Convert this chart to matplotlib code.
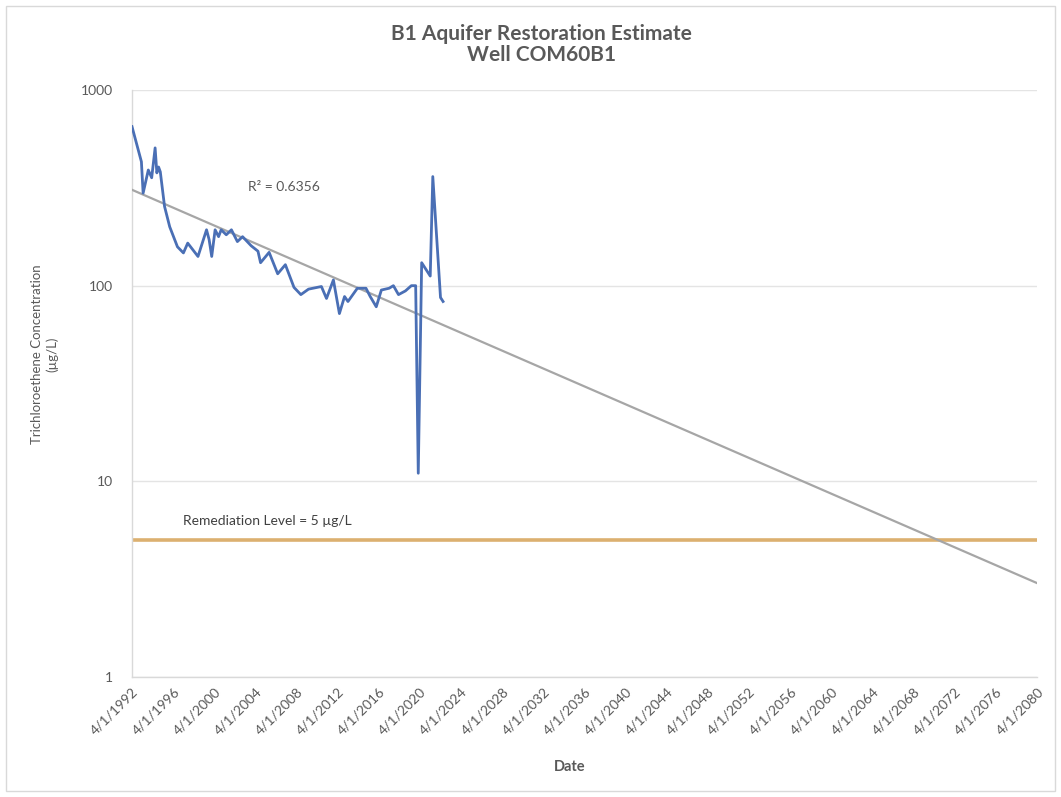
import matplotlib
matplotlib.use("Agg")
import matplotlib.pyplot as plt
import matplotlib.dates as mdates
from matplotlib.patches import Rectangle
from matplotlib.ticker import FixedLocator, FixedFormatter, NullLocator
import numpy as np
import datetime as dt

# Sampling dates and TCE concentrations (µg/L) for well COM60B1
sample_dates = [
    "1992-04-01", "1993-03-01", "1993-05-01", "1993-11-01", "1994-03-01",
    "1994-07-01", "1994-09-01", "1994-11-01", "1995-01-01", "1995-06-01",
    "1995-12-01", "1996-09-01", "1997-04-01", "1997-09-01", "1998-09-01",
    "1999-07-01", "1999-10-01", "2000-01-01", "2000-05-01", "2000-09-01",
    "2000-12-01", "2001-06-01", "2001-12-01", "2002-07-01", "2003-01-01",
    "2003-11-01", "2004-07-01", "2004-10-01", "2005-08-01", "2006-06-01",
    "2007-03-01", "2008-01-01", "2008-09-01", "2009-06-01", "2010-09-01",
    "2011-03-01", "2011-11-01", "2012-06-01", "2012-12-01", "2013-04-01",
    "2014-03-01", "2015-01-01", "2015-06-01", "2016-01-01", "2016-07-01",
    "2017-04-01", "2017-09-01", "2018-03-01", "2018-11-01", "2019-06-01",
    "2019-11-01", "2020-02-01", "2020-06-01", "2021-04-01", "2021-07-01",
    "2022-04-01", "2022-07-01",
]
tce_ugL = [
    650, 430, 297, 390, 356,
    506, 377, 404, 382, 254,
    200, 158, 147, 165, 141,
    193, 172, 141, 193, 178,
    193, 182, 193, 168, 178,
    160, 150, 131, 148, 115,
    128, 98, 90, 96, 99,
    86, 107, 72, 88, 83,
    97, 97, 88, 78, 95,
    97, 100, 90, 94, 100,
    100, 11, 131, 112, 361,
    87, 83,
]

# Exponential trend line end points (date, µg/L)
trend_dates = ["1992-04-01", "2080-04-01"]
trend_values = [309, 3.02]
r_squared_label = "R\u00b2 = 0.6356"

remediation_level = 5
tick_years = list(range(1992, 2081, 4))
y_ticks = [1, 10, 100, 1000]

text_color = "#595959"
plt.rcParams["font.family"] = ["Lato", "DejaVu Sans"]

fig = plt.figure(figsize=(10.61, 7.97), dpi=100)
ax = fig.add_axes([132 / 1061, 1 - 677 / 797, (1037 - 132) / 1061, (677 - 90) / 797])

to_date = lambda s: dt.datetime.strptime(s, "%Y-%m-%d")
xd = [to_date(s) for s in sample_dates]

# Trend line (straight in log space between its end points)
tx = mdates.date2num([to_date(s) for s in trend_dates])
tt = np.linspace(tx[0], tx[1], 200)
log_tv = np.interp(tt, tx, np.log10(trend_values))
ax.plot(mdates.num2date(tt), 10 ** log_tv, color="#a6a6a6", lw=1.6, zorder=3)

# Measured concentrations
ax.plot(xd, tce_ugL, color="#4a6fb5", lw=2.0, zorder=4)

# Remediation level
ax.axhline(remediation_level, color="#dcb070", lw=2.6, zorder=2)

ax.set_yscale("log")
ax.set_ylim(1, 1000)
ax.set_xlim(dt.datetime(1992, 4, 1), dt.datetime(2080, 4, 1))

ax.yaxis.set_major_locator(FixedLocator(y_ticks))
ax.yaxis.set_major_formatter(FixedFormatter([str(v) for v in y_ticks]))
ax.yaxis.set_minor_locator(NullLocator())
ax.grid(axis="y", color="#e4e4e4", lw=1.0, zorder=0)

tick_pos = mdates.date2num([dt.datetime(y, 4, 1) for y in tick_years])
ax.xaxis.set_major_locator(FixedLocator(tick_pos))
ax.xaxis.set_major_formatter(FixedFormatter([f"4/1/{y}" for y in tick_years]))
ax.xaxis.set_minor_locator(NullLocator())

for lab in ax.get_xticklabels():
    lab.set_rotation(45)
    lab.set_ha("right")
    lab.set_rotation_mode("anchor")

ax.tick_params(axis="both", length=0, colors=text_color, labelsize=10)
ax.tick_params(axis="x", pad=6)
ax.tick_params(axis="y", pad=14)

for side in ["top", "right"]:
    ax.spines[side].set_visible(False)
for side in ["left", "bottom"]:
    ax.spines[side].set_color("#d9d9d9")
    ax.spines[side].set_linewidth(1.0)

ax.text(dt.datetime(2003, 7, 1), 320, r_squared_label, color=text_color, fontsize=10,
        va="center", ha="left")
ax.text(dt.datetime(1997, 3, 1), 6.25, f"Remediation Level = {remediation_level} \u00b5g/L",
        color="#404040", fontsize=10, va="center", ha="left")

fig.text(0.51, 0.944, "B1 Aquifer Restoration Estimate\nWell COM60B1", ha="center",
         va="center", fontsize=15, fontweight="bold", color=text_color, linespacing=1.1)
fig.text(0.042, 0.556, "Trichloroethene Concentration\n(\u00b5g/L)", rotation=90,
         ha="center", va="center", fontsize=9.5, color=text_color, linespacing=1.3)
fig.text(0.537, 0.038, "Date", ha="center", va="center", fontsize=10.5,
         fontweight="bold", color=text_color)

fig.patches.append(Rectangle((6 / 1061, 6 / 797), 1 - 12 / 1061, 1 - 12 / 797,
                             transform=fig.transFigure, fill=False,
                             edgecolor="#d9d9d9", lw=1.0))

fig.savefig("out.png", dpi=100)
